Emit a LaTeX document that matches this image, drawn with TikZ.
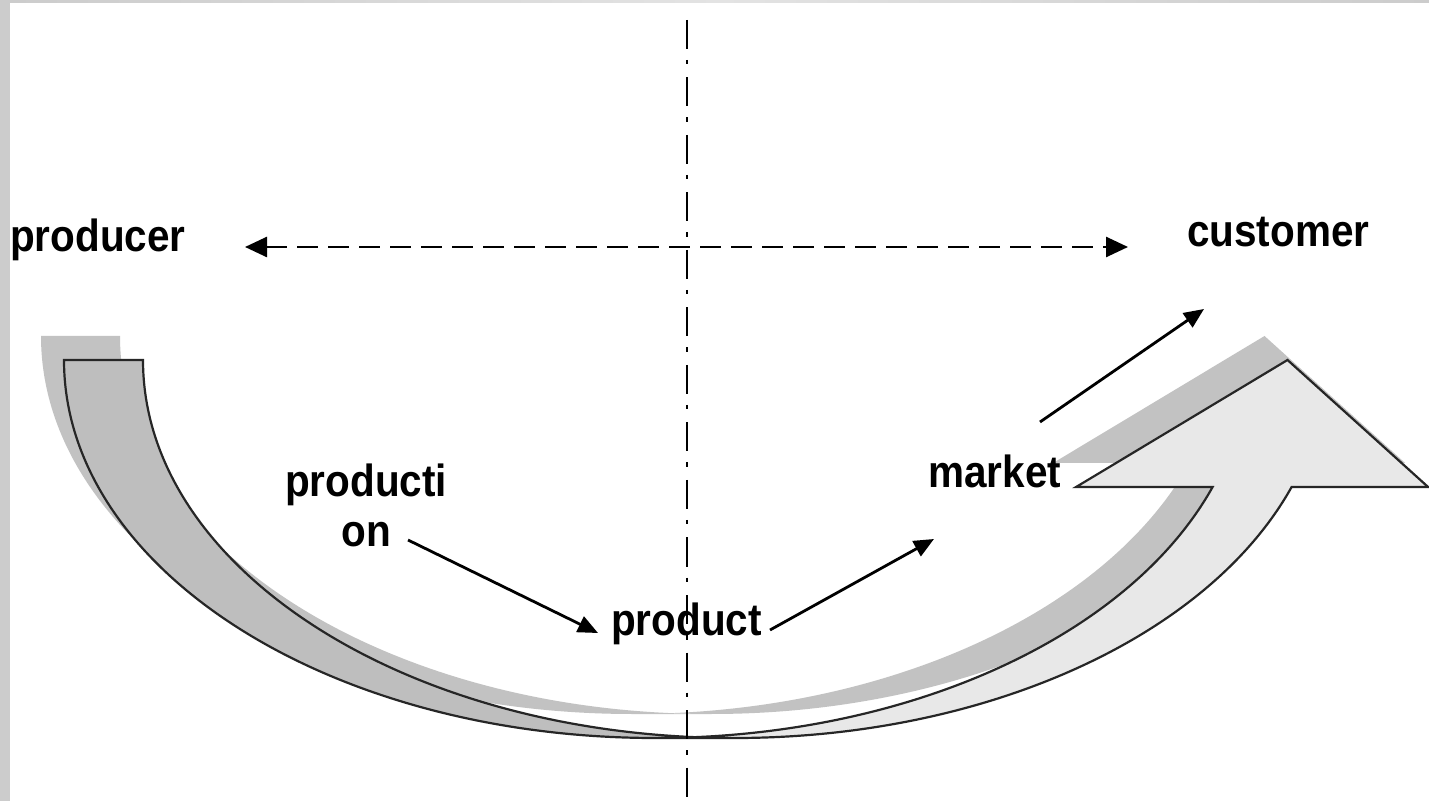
\documentclass[tikz,border=0pt]{standalone}
\usepackage{fontspec}
\newfontfamily\lblfont{Liberation Sans}[FakeStretch=0.9]
\usetikzlibrary{arrows.meta}
\definecolor{lightfill}{gray}{0.91}
\definecolor{darkfill}{gray}{0.745}
\definecolor{shadowfill}{gray}{0.76}
\definecolor{framegray}{gray}{0.8}
\definecolor{framelight}{gray}{0.89}
\definecolor{outlinecol}{gray}{0.15}
\begin{document}
\begin{tikzpicture}[x=1pt,y=1pt,
  lbl/.style={font=\lblfont\bfseries\fontsize{45}{50}\selectfont, inner sep=0pt, text=black},
  dashdotline/.style={line width=2.2pt, dash pattern=on 29pt off 11pt on 4.5pt off 13pt},
  dashline/.style={line width=2.6pt, dash pattern=on 21pt off 10pt,
     {Triangle[length=22pt,width=20pt]}-{Triangle[length=22pt,width=20pt]}},
  solidarrow/.style={line width=2.8pt, -{Triangle[length=20pt,width=17pt]}},
  outl/.style={draw=outlinecol, line width=2.2pt, line join=miter},
  ell/.style={x radius=591.5, y radius=378}
]
\useasboundingbox (0,0) rectangle (1429,801);
\fill[white] (0,0) rectangle (1429,801);
% frame strips
\fill[framegray] (0,0) rectangle (10,801);
\shade[left color=framegray, right color=framegray, middle color=framelight] (10,798) rectangle (1429,801);

% shadow of the curved arrow
\begin{scope}[shift={(-23,24)}]
  \fill[shadowfill] (655.5,63) arc[start angle=270,end angle=180,ell] -- (143,441)
        arc[start angle=180,end angle=270,ell] -- cycle;
  \fill[shadowfill] (1287.5,441) -- (1428.1,314) -- (1291.6,314)
        arc[start angle=-19.633,end angle=-93.829,ell]
        arc[start angle=-86.171,end angle=-19.633,ell] -- (1076.1,314) -- cycle;
\end{scope}

% front (light) part of the curved arrow
\fill[lightfill] (1287.5,441) -- (1428.1,314) -- (1291.6,314)
      arc[start angle=-19.633,end angle=-93.829,ell]
      arc[start angle=-86.171,end angle=-19.633,ell] -- (1076.1,314) -- cycle;
% back (darker) part
\fill[darkfill] (655.5,63) arc[start angle=270,end angle=180,ell] -- (143,441)
      arc[start angle=180,end angle=270,ell] -- cycle;
% outline
\draw[outl] (695,63.84) arc[start angle=-86.171,end angle=-19.633,ell]
      -- (1076.1,314) -- (1287.5,441) -- (1428.1,314) -- (1291.6,314)
      arc[start angle=-19.633,end angle=-90,ell] -- (655.5,63)
      arc[start angle=270,end angle=180,ell] -- (143,441)
      arc[start angle=180,end angle=270,ell];

% axis line
\coordinate (vtop) at (687,781);
\coordinate (vbot) at (687,0);
\draw[dashdotline] (vtop) -- (vbot);

% labels
\node[lbl, anchor=base west] (producer) at (10,549) {producer};
\node[lbl, anchor=base west] (customer) at (1187,554) {customer};
\node[lbl, anchor=south, align=center] (production) at (366,254) {producti\\on};
\node[lbl, anchor=base west] (product) at (611,166) {product};
\node[lbl, anchor=base west] (market) at (928,313) {market};

% connectors
\coordinate (d1) at (245,554);
\coordinate (d2) at (1128,554);
\draw[dashline] (d1) -- (d2);

\coordinate (a1s) at (408,261);
\coordinate (a1e) at (598,168);
\draw[solidarrow] (a1s) -- (a1e);
\coordinate (a2s) at (770,171);
\coordinate (a2e) at (934,262);
\draw[solidarrow] (a2s) -- (a2e);
\coordinate (a3s) at (1040,379);
\coordinate (a3e) at (1204,492);
\draw[solidarrow] (a3s) -- (a3e);
\end{tikzpicture}
\end{document}
